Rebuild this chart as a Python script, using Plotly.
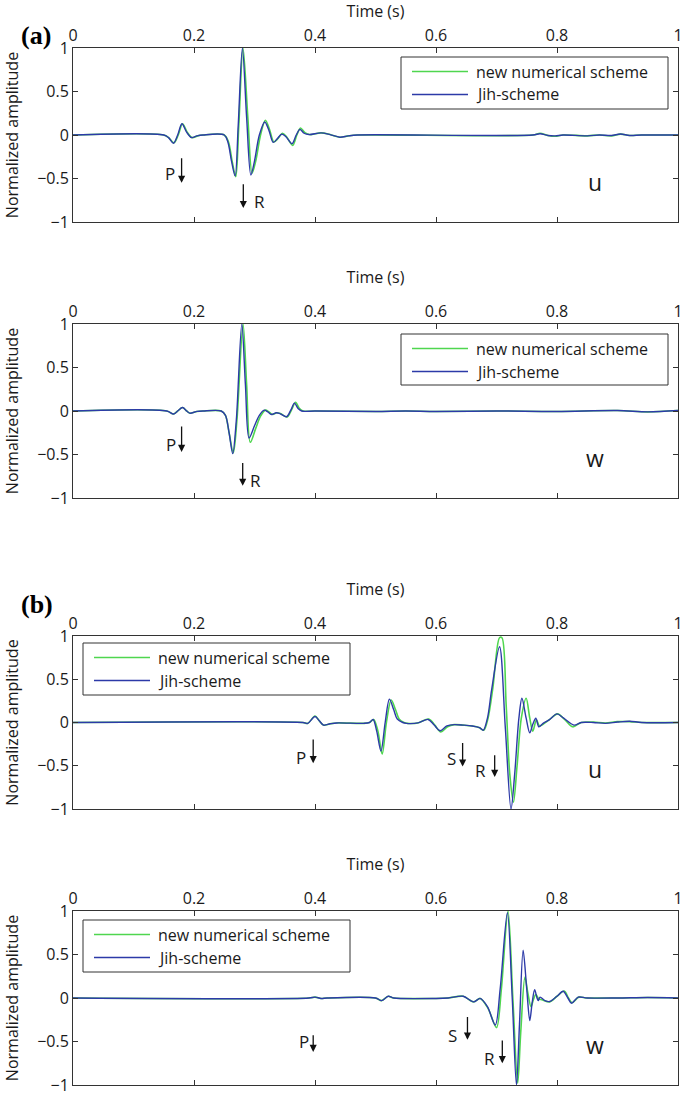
import plotly.graph_objects as go

# ---------------- data ----------------
# Panel (a) u : new numerical scheme
t_a_u_new = [0, 0.15, 0.158, 0.167, 0.174, 0.181, 0.189, 0.197, 0.206, 0.215, 0.25, 0.257, 0.263, 0.269,
             0.274, 0.281, 0.289, 0.296, 0.302, 0.310, 0.318, 0.325, 0.332, 0.339, 0.346, 0.353, 0.363,
             0.370, 0.376, 0.383, 0.391, 0.41, 0.425, 0.441, 0.455, 0.47, 0.76, 0.772, 0.785, 0.797,
             0.81, 0.85, 0.87, 0.89, 0.905, 0.92, 0.94, 1.0]
a_a_u_new = [0, 0, -0.03, -0.09, 0.0, 0.13, 0.03, -0.03, -0.01, 0, 0, -0.08, -0.3, -0.48,
             0.1, 1.0, 0.2, -0.44, -0.3, 0.0, 0.17, 0.06, -0.08, -0.04, 0.02, -0.02, -0.12,
             0.0, 0.08, 0.03, 0.005, 0.025, 0.005, -0.025, -0.01, 0, 0, 0.02, -0.005, -0.015,
             0, -0.01, 0, -0.01, 0.01, -0.005, 0, 0]
# Panel (a) u : Jih-scheme
t_a_u_jih = [0, 0.15, 0.158, 0.166, 0.173, 0.180, 0.188, 0.196, 0.205, 0.215, 0.25, 0.256, 0.262, 0.268,
             0.273, 0.280, 0.287, 0.294, 0.300, 0.308, 0.317, 0.324, 0.331, 0.338, 0.345, 0.352, 0.362,
             0.369, 0.375, 0.382, 0.390, 0.41, 0.425, 0.441, 0.455, 0.47, 0.76, 0.772, 0.785, 0.797,
             0.81, 0.85, 0.87, 0.89, 0.905, 0.92, 0.94, 1.0]
a_a_u_jih = [0, 0, -0.03, -0.095, 0.0, 0.13, 0.03, -0.03, -0.01, 0, 0, -0.08, -0.3, -0.47,
             0.1, 1.0, 0.2, -0.46, -0.3, 0.0, 0.15, 0.05, -0.085, -0.04, 0.01, -0.02, -0.10,
             0.0, 0.065, 0.02, 0.005, 0.025, 0.005, -0.025, -0.01, 0, 0, 0.015, -0.005, -0.01,
             0, -0.01, 0, -0.005, 0.012, -0.005, 0, 0]

# Panel (a) w : new numerical scheme
t_a_w_new = [0, 0.155, 0.166, 0.173, 0.181, 0.188, 0.193, 0.205, 0.215, 0.245, 0.252, 0.258, 0.265,
             0.271, 0.281, 0.287, 0.293, 0.302, 0.310, 0.318, 0.324, 0.330, 0.337, 0.343, 0.354, 0.361,
             0.368, 0.374, 0.380, 0.40, 0.5, 0.55, 0.6, 0.7, 0.8, 0.9, 0.95, 1.0]
a_a_w_new = [0, 0, -0.035, 0.0, 0.04, 0.0, -0.025, -0.005, 0, 0, -0.05, -0.25, -0.48,
             -0.1, 1.0, 0.3, -0.36, -0.2, -0.06, 0.01, -0.01, -0.04, -0.02, -0.03, -0.07, 0.01,
             0.1, 0.03, 0.0, 0.0, -0.005, 0.0, -0.005, 0, -0.005, 0.005, -0.01, 0.005]
# Panel (a) w : Jih-scheme
t_a_w_jih = [0, 0.155, 0.166, 0.173, 0.181, 0.188, 0.193, 0.205, 0.215, 0.245, 0.252, 0.258, 0.264,
             0.270, 0.279, 0.285, 0.291, 0.300, 0.308, 0.316, 0.322, 0.328, 0.336, 0.342, 0.353, 0.360,
             0.366, 0.372, 0.378, 0.40, 0.5, 0.55, 0.6, 0.7, 0.8, 0.9, 0.95, 1.0]
a_a_w_jih = [0, 0, -0.035, 0.0, 0.04, 0.0, -0.025, -0.005, 0, 0, -0.05, -0.25, -0.49,
             -0.1, 1.0, 0.3, -0.31, -0.17, -0.05, 0.01, -0.01, -0.04, -0.02, -0.03, -0.065, 0.01,
             0.09, 0.03, 0.0, 0.0, -0.005, 0.0, -0.005, 0, -0.005, 0.005, -0.01, 0.005]

# Panel (b) u : new numerical scheme
t_b_u_new = [0, 0.38, 0.388, 0.400, 0.407, 0.414, 0.425, 0.436, 0.48, 0.490, 0.497, 0.504, 0.511,
             0.518, 0.526, 0.533, 0.539, 0.547, 0.553, 0.57, 0.588, 0.598, 0.608, 0.619, 0.63, 0.645,
             0.66, 0.672, 0.679, 0.686, 0.694, 0.705, 0.709, 0.716, 0.722, 0.728, 0.734, 0.741, 0.749,
             0.755, 0.760, 0.766, 0.771, 0.777, 0.787, 0.801, 0.812, 0.826, 0.84, 0.86, 0.88, 0.9,
             0.92, 0.94, 1.0]
a_b_u_new = [0, 0, -0.01, 0.075, 0.02, -0.03, -0.015, -0.005, -0.01, 0.0, 0.035, -0.1, -0.365,
             0.0, 0.26, 0.15, 0.04, 0.0, -0.01, -0.005, 0.04, -0.03, -0.11, -0.05, -0.025, -0.03,
             -0.04, -0.06, -0.09, 0.05, 0.4, 0.98, 0.98, 0.2, -0.6, -0.92, -0.5, 0.05, 0.28,
             0.05, -0.1, 0.03, -0.04, -0.02, 0.03, 0.1, 0.04, -0.05, 0.0, 0.005, -0.005, 0.01,
             0.01, 0.0, 0.0]
# Panel (b) u : Jih-scheme
t_b_u_jih = [0, 0.38, 0.388, 0.400, 0.407, 0.414, 0.425, 0.436, 0.48, 0.490, 0.496, 0.502, 0.509,
             0.516, 0.523, 0.530, 0.536, 0.545, 0.551, 0.57, 0.587, 0.597, 0.607, 0.618, 0.63, 0.645,
             0.66, 0.672, 0.678, 0.685, 0.692, 0.705, 0.7145, 0.724, 0.730, 0.737, 0.742,
             0.749, 0.755, 0.760, 0.765, 0.770, 0.777, 0.787, 0.800, 0.811, 0.828, 0.84, 0.86,
             0.88, 0.9, 0.92, 0.94, 1.0]
a_b_u_jih = [0, 0, -0.01, 0.07, 0.02, -0.03, -0.015, -0.005, -0.01, 0.0, 0.035, -0.1, -0.33,
             0.0, 0.27, 0.15, 0.04, 0.0, -0.01, -0.005, 0.035, -0.03, -0.095, -0.04, -0.025, -0.03,
             -0.04, -0.06, -0.09, 0.05, 0.38, 0.875, -0.05, -1.0, -0.6, 0.05, 0.28,
             0.05, -0.12, -0.02, 0.05, -0.05, -0.01, 0.03, 0.1, 0.05, -0.03, 0.0, 0.0,
             -0.01, 0.005, 0.015, 0.0, 0.0]

# Panel (b) w : new numerical scheme
t_b_w_new = [0, 0.39, 0.4, 0.41, 0.42, 0.50, 0.51, 0.521, 0.53, 0.6, 0.62, 0.645, 0.662, 0.673,
             0.686, 0.700, 0.708, 0.719, 0.727, 0.735, 0.740, 0.747, 0.752, 0.757, 0.761, 0.765,
             0.770, 0.775, 0.788, 0.80, 0.812, 0.819, 0.825, 0.836, 0.85, 0.9, 0.95, 1.0]
a_b_w_new = [0, 0, 0.01, -0.005, 0, 0, -0.03, 0.02, 0.0, -0.005, 0.0, 0.02, -0.045, -0.005,
             -0.12, -0.34, 0.1, 1.0, 0.0, -0.98, -0.4, 0.24, 0.05, -0.1, -0.02, 0.04,
             -0.01, -0.02, -0.045, 0.02, 0.08, 0.0, -0.055, 0.01, 0.0, 0.0, 0.005, 0]
# Panel (b) w : Jih-scheme
t_b_w_jih = [0, 0.39, 0.4, 0.41, 0.42, 0.50, 0.51, 0.521, 0.53, 0.6, 0.62, 0.645, 0.662, 0.673,
             0.685, 0.698, 0.706, 0.718, 0.726, 0.733, 0.738, 0.744, 0.750, 0.755, 0.759, 0.763,
             0.767, 0.769, 0.772, 0.78, 0.788, 0.80, 0.81, 0.818, 0.824, 0.835, 0.85, 0.9, 0.95, 1.0]
a_b_w_jih = [0, 0, 0.01, -0.005, 0, 0, -0.03, 0.02, 0.0, -0.005, 0.0, 0.02, -0.045, -0.005,
             -0.1, -0.31, 0.1, 0.98, 0.0, -1.0, -0.3, 0.55, 0.1, -0.26, -0.05, 0.095,
             0.0, -0.03, 0.01, -0.03, -0.04, 0.02, 0.077, 0.0, -0.06, 0.01, 0.0, 0.0, 0.005, 0]

series_names = ["new numerical scheme", "Jih-scheme"]
x_ticks = [0, 0.2, 0.4, 0.6, 0.8, 1]
y_ticks = [-1, -0.5, 0, 0.5, 1]
component_labels = ["u", "w", "u", "w"]
panel_labels = ["(a)", "(b)"]

# phase markers: (label, label_t, label_amp, arrow_t, tail_amp, tip_amp)
markers = [
    [("P", 0.160, -0.44, 0.1795, -0.25, -0.55), ("R", 0.308, -0.77, 0.2815, -0.55, -0.84)],
    [("P", 0.162, -0.38, 0.1795, -0.16, -0.47), ("R", 0.302, -0.80, 0.2805, -0.58, -0.86)],
    [("P", 0.377, -0.40, 0.397, -0.18, -0.47), ("S", 0.625, -0.42, 0.644, -0.22, -0.51),
     ("R", 0.674, -0.56, 0.697, -0.36, -0.63)],
    [("P", 0.382, -0.50, 0.397, -0.41, -0.62), ("S", 0.627, -0.43, 0.652, -0.20, -0.48),
     ("R", 0.688, -0.69, 0.7096, -0.47, -0.75)],
]

# ---------------- layout helpers ----------------
W, H = 685, 1096
def px(x):
    return x / W
def py(y):
    return 1 - y / H

GREEN = "#4fd64f"
BLUE = "#2c3aa8"
FRAME = "#333333"
TXT = "#1a1a1a"
FONT = "Open Sans"

panel_series = [
    (t_a_u_new, a_a_u_new, t_a_u_jih, a_a_u_jih),
    (t_a_w_new, a_a_w_new, t_a_w_jih, a_a_w_jih),
    (t_b_u_new, a_b_u_new, t_b_u_jih, a_b_u_jih),
    (t_b_w_new, a_b_w_new, t_b_w_jih, a_b_w_jih),
]
# pixel rows of each axes box (top, bottom)
rows = [(48, 222), (324, 498), (636, 809), (911, 1085)]
X0, X1 = 73, 678
# legend boxes (left, top, right, bottom) in px
leg_boxes = [(401, 57, 668, 109), (401, 334, 668, 385), (83, 643, 350, 695), (83, 920, 350, 972)]

fig = go.Figure()
annotations = []
shapes = []

for i, (tn, an, tj, aj) in enumerate(panel_series):
    k = "" if i == 0 else str(i + 1)
    xa, ya = "x" + k, "y" + k
    fig.add_trace(go.Scatter(x=tn, y=an, mode="lines", name=series_names[0],
                             line=dict(color=GREEN, width=1.6, shape="spline", smoothing=0.9),
                             xaxis=xa, yaxis=ya, showlegend=False))
    fig.add_trace(go.Scatter(x=tj, y=aj, mode="lines", name=series_names[1],
                             line=dict(color=BLUE, width=1.4, shape="spline", smoothing=0.9),
                             xaxis=xa, yaxis=ya, showlegend=False))
    top, bot = rows[i]
    axis_common = dict(showline=True, linecolor=FRAME, linewidth=1, mirror="ticks",
                       ticks="inside", ticklen=5, tickwidth=1, tickcolor=FRAME,
                       showgrid=False, zeroline=False, automargin=False,
                       tickfont=dict(family=FONT, size=16, color=TXT))
    fig.layout["xaxis" + k] = dict(axis_common, domain=[px(X0), px(X1)], anchor=ya, range=[0, 1],
                                   side="top", tickvals=x_ticks,
                                   title=dict(text="Time (s)", standoff=11,
                                              font=dict(family=FONT, size=16, color=TXT)))
    fig.layout["yaxis" + k] = dict(axis_common, domain=[py(bot), py(top)], anchor=xa, range=[-1, 1],
                                   tickvals=y_ticks,
                                   title=dict(text="Normalized amplitude", standoff=14,
                                              font=dict(family=FONT, size=16, color=TXT)))
    # component label
    annotations.append(dict(x=0.862, y=-0.54, xref=xa, yref=ya, text=component_labels[i],
                            showarrow=False, font=dict(family=FONT, size=23, color=TXT)))
    # phase arrows and letters
    for (lab, lt, la, at, tail, tip) in markers[i]:
        annotations.append(dict(x=lt, y=la, xref=xa, yref=ya, text=lab, showarrow=False,
                                font=dict(family=FONT, size=17, color=TXT)))
        annotations.append(dict(x=at, y=tip, ax=at, ay=tail, xref=xa, yref=ya, axref=xa, ayref=ya,
                                text="", showarrow=True, arrowhead=2, arrowsize=1.1,
                                arrowwidth=1.3, arrowcolor="#111111"))
    # legend box
    l, t, r, b = leg_boxes[i]
    shapes.append(dict(type="rect", xref="paper", yref="paper", x0=px(l), x1=px(r), y0=py(b), y1=py(t),
                       line=dict(color=FRAME, width=1), fillcolor="white", layer="above"))
    ys = [t + 14.5, t + 37.5]
    for j, (col, nm) in enumerate([(GREEN, series_names[0]), (BLUE, series_names[1])]):
        shapes.append(dict(type="line", xref="paper", yref="paper", x0=px(l + 11), x1=px(l + 67),
                           y0=py(ys[j]), y1=py(ys[j]), line=dict(color=col, width=1.5), layer="above"))
        annotations.append(dict(x=px(l + 73), y=py(ys[j]), xref="paper", yref="paper", text=nm,
                                showarrow=False, xanchor="left", yanchor="middle",
                                font=dict(family=FONT, size=16, color=TXT)))

# panel letters
annotations.append(dict(x=px(19), y=py(19), xref="paper", yref="paper", text="<b>(a)</b>",
                        showarrow=False, font=dict(family="Liberation Serif", size=26, color="#000")))
annotations.append(dict(x=px(19), y=py(604), xref="paper", yref="paper", text="<b>(b)</b>",
                        showarrow=False, font=dict(family="Liberation Serif", size=26, color="#000")))

fig.update_layout(width=W, height=H, margin=dict(l=0, r=0, t=0, b=0),
                  paper_bgcolor="white", plot_bgcolor="white",
                  annotations=annotations, shapes=shapes, showlegend=False,
                  font=dict(family=FONT, color=TXT))
# remove the browser's default 8px page margin so the figure sits at the window origin
fig.write_html("out.html", config={"displayModeBar": False},
               post_script="document.body.style.margin='0px';")
